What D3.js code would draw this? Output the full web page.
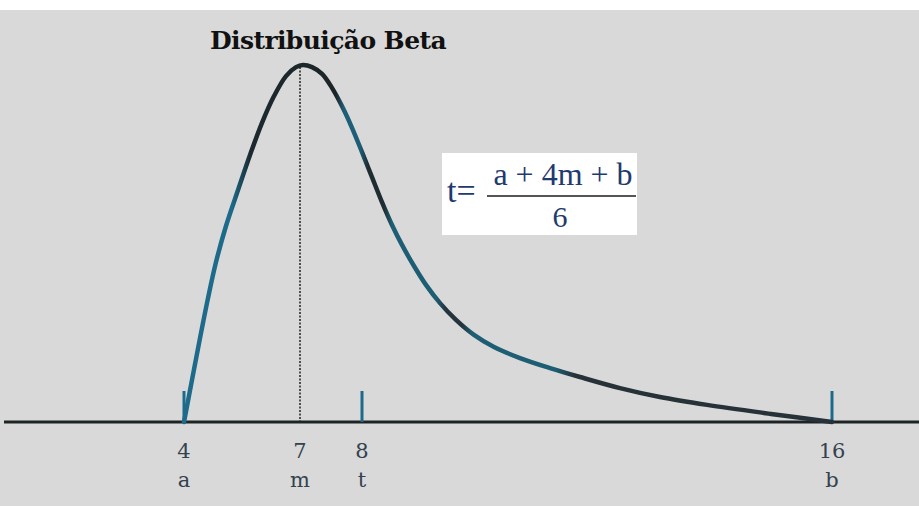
<!DOCTYPE html>
<html>
<head>
<meta charset="utf-8">
<script src="https://cdn.jsdelivr.net/npm/d3@7"></script>
<style>
  body { margin: 0; background: #fff; }
  svg { display: block; }
</style>
</head>
<body>
<svg id="chart" width="919" height="506"></svg>
<script>
// marked points on the time axis (drawn as a sketch, not to scale)
const tickValues = [4, 7, 8, 16];
const tickNumbers = ["4", "7", "8", "16"];
const tickLetters = ["a", "m", "t", "b"];
const tickMarked = [true, false, true, true]; // short blue ticks

// beta curve: time and relative density
const curveT = [4.0, 4.207, 4.414, 4.621, 4.828, 5.086, 5.397, 5.707, 6.017, 6.328, 6.638,
  6.897, 7.048, 7.194, 7.355, 7.516, 7.677, 7.839, 8.0, 8.17, 8.34, 8.511, 8.681, 8.885,
  9.089, 9.328, 9.6, 9.906, 10.247, 10.689, 11.2, 11.711, 12.391, 13.072, 13.872, 14.995, 16];
const curveD = [0, 0.118, 0.235, 0.347, 0.448, 0.549, 0.65, 0.748, 0.838, 0.913, 0.969,
  0.994, 1.0, 0.994, 0.975, 0.936, 0.885, 0.824, 0.756, 0.686, 0.616, 0.552, 0.496, 0.437,
  0.384, 0.333, 0.286, 0.244, 0.21, 0.179, 0.151, 0.126, 0.095, 0.07, 0.048, 0.022, 0];

const modeT = 7;

const svg = d3.select("#chart");
const W = 919, H = 506;

// scanned-paper background
svg.append("rect").attr("width", W).attr("height", H).attr("fill", "#ffffff");
svg.append("rect").attr("x", 0).attr("y", 10).attr("width", W).attr("height", H - 10)
  .attr("fill", "#d9d9d9");

// the sketch spacing is uneven, so use a polylinear scale
const x = d3.scaleLinear().domain(tickValues).range([184, 300, 362, 832]);
const y = d3.scaleLinear().domain([0, 1]).range([422, 65]);

// gradient to mimic the blue/black ink of the curve
const defs = svg.append("defs");
const grad = defs.append("linearGradient")
  .attr("id", "ink")
  .attr("gradientUnits", "userSpaceOnUse")
  .attr("x1", 184).attr("x2", 832).attr("y1", 0).attr("y2", 0);
// stops given in pixels along the axis
[
  [184, "#1d6a8a"], [232, "#1d6a8a"], [250, "#1c2a30"], [336, "#1c2428"],
  [344, "#1d5f78"], [360, "#1d5f78"], [368, "#1f2c32"], [384, "#1f2c32"],
  [392, "#1d5e74"], [436, "#1d5e74"], [446, "#22343c"], [462, "#22343c"],
  [472, "#1d5e74"], [555, "#1d5e74"], [575, "#263238"], [832, "#263238"]
].forEach(s => grad.append("stop")
  .attr("offset", (s[0] - 184) / (832 - 184))
  .attr("stop-color", s[1]));

// axis line
svg.append("line")
  .attr("x1", 4).attr("x2", W).attr("y1", y(0)).attr("y2", y(0))
  .attr("stroke", "#1e2426").attr("stroke-width", 3);

// dotted line at the mode
svg.append("line")
  .attr("x1", x(modeT)).attr("x2", x(modeT))
  .attr("y1", y(1) + 2).attr("y2", y(0))
  .attr("stroke", "#222").attr("stroke-width", 1.5)
  .attr("stroke-dasharray", "2,1.5");

// ticks
svg.selectAll("line.tick")
  .data(tickValues.filter((d, i) => tickMarked[i]))
  .enter().append("line")
  .attr("class", "tick")
  .attr("x1", d => x(d)).attr("x2", d => x(d))
  .attr("y1", y(0) - 31).attr("y2", y(0))
  .attr("stroke", "#1d6a8a").attr("stroke-width", 3);

// the curve
const line = d3.line()
  .x((d, i) => x(curveT[i]))
  .y(d => y(d))
  .curve(d3.curveCatmullRom.alpha(0.5));

svg.append("path")
  .datum(curveD)
  .attr("d", line)
  .attr("fill", "none")
  .attr("stroke", "url(#ink)")
  .attr("stroke-width", 4.5)
  .attr("stroke-linecap", "round");

// labels under the axis
const labelFont = "'DejaVu Serif', 'Liberation Serif', serif";
svg.selectAll("text.num")
  .data(tickValues)
  .enter().append("text")
  .attr("class", "num")
  .attr("x", d => x(d)).attr("y", 458)
  .attr("text-anchor", "middle")
  .attr("font-family", labelFont).attr("font-size", 21)
  .attr("fill", "#34424f")
  .text((d, i) => tickNumbers[i]);

svg.selectAll("text.let")
  .data(tickValues)
  .enter().append("text")
  .attr("class", "let")
  .attr("x", d => x(d)).attr("y", 487)
  .attr("text-anchor", "middle")
  .attr("font-family", labelFont).attr("font-size", 21)
  .attr("fill", "#34424f")
  .text((d, i) => tickLetters[i]);

// title
svg.append("text")
  .attr("x", 328).attr("y", 49)
  .attr("text-anchor", "middle")
  .attr("font-family", "'DejaVu Serif', serif")
  .attr("font-weight", "bold").attr("font-size", 25)
  .attr("letter-spacing", -0.6)
  .attr("fill", "#111")
  .text("Distribuição Beta");

// formula box
const fx = 442, fy = 153;
const fg = svg.append("g");
fg.append("rect").attr("x", fx).attr("y", fy).attr("width", 195).attr("height", 82)
  .attr("fill", "#ffffff");
const fFont = "'Liberation Serif', serif";
fg.append("text").attr("x", fx + 5).attr("y", fy + 49)
  .attr("font-family", fFont).attr("font-size", 34).attr("fill", "#1f3a6e")
  .text("t=");
fg.append("text").attr("x", fx + 121).attr("y", fy + 32)
  .attr("text-anchor", "middle")
  .attr("font-family", fFont).attr("font-size", 32).attr("fill", "#1f3a6e")
  .text("a + 4m + b");
fg.append("line").attr("x1", fx + 45).attr("x2", fx + 194)
  .attr("y1", fy + 43).attr("y2", fy + 43)
  .attr("stroke", "#555").attr("stroke-width", 2);
fg.append("text").attr("x", fx + 118).attr("y", fy + 74)
  .attr("text-anchor", "middle")
  .attr("font-family", fFont).attr("font-size", 30).attr("fill", "#1f3a6e")
  .text("6");
</script>
</body>
</html>
